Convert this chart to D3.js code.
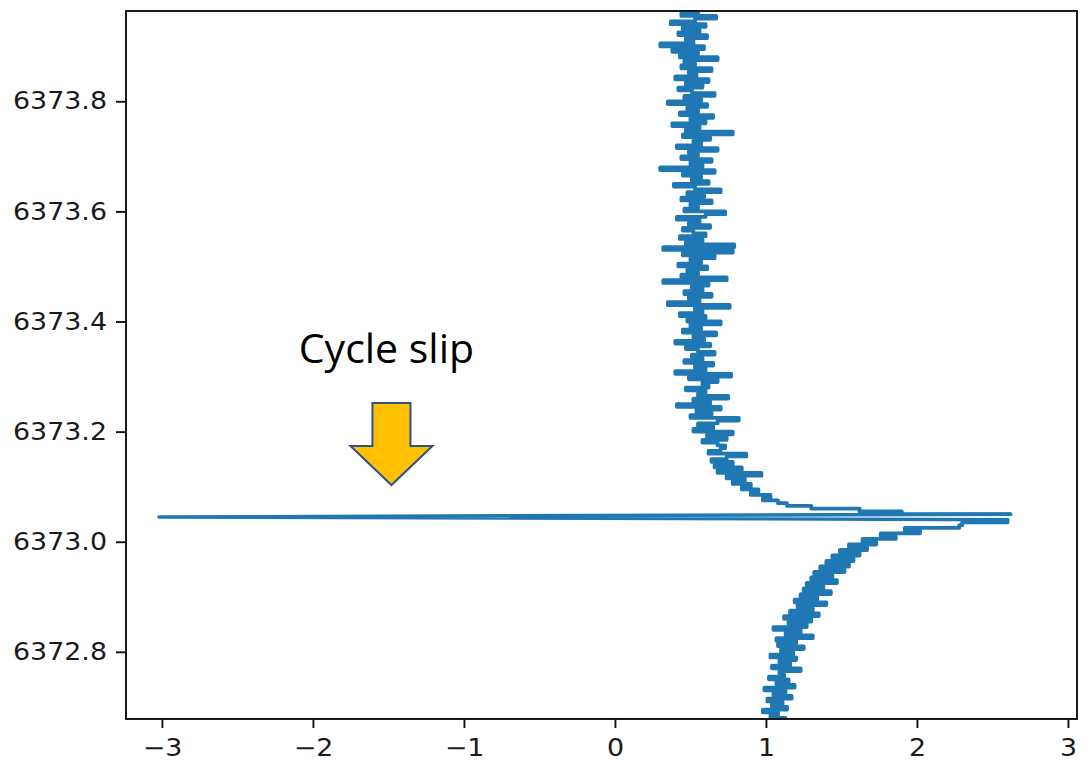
<!DOCTYPE html>
<html>
<head>
<meta charset="utf-8">
<script src="https://cdn.jsdelivr.net/npm/d3@7"></script>
<style>
  html, body { margin: 0; padding: 0; background: #fff; }
  svg { display: block; }
</style>
</head>
<body>
<svg id="chart" width="1088" height="761"></svg>
<script>
// Sample epochs (vertical axis)
const epochs = [
  6372.675,6372.680,6372.685,6372.690,6372.695,6372.700,6372.705,6372.710,6372.715,6372.720,
  6372.725,6372.730,6372.735,6372.740,6372.745,6372.750,6372.755,6372.760,6372.765,6372.770,
  6372.775,6372.780,6372.785,6372.790,6372.795,6372.800,6372.805,6372.810,6372.815,6372.820,
  6372.825,6372.830,6372.835,6372.840,6372.845,6372.850,6372.855,6372.860,6372.865,6372.870,
  6372.875,6372.880,6372.885,6372.890,6372.895,6372.900,6372.905,6372.910,6372.915,6372.920,
  6372.925,6372.930,6372.935,6372.940,6372.945,6372.950,6372.955,6372.960,6372.965,6372.970,
  6372.975,6372.980,6372.985,6372.990,6372.995,6373.000,6373.005,6373.010,6373.015,6373.020,
  6373.025,6373.030,6373.035,6373.040,6373.045,6373.050,6373.055,6373.060,6373.065,6373.070,
  6373.075,6373.080,6373.085,6373.090,6373.095,6373.100,6373.105,6373.110,6373.115,6373.120,
  6373.125,6373.130,6373.135,6373.140,6373.145,6373.150,6373.155,6373.160,6373.165,6373.170,
  6373.175,6373.180,6373.185,6373.190,6373.195,6373.200,6373.205,6373.210,6373.215,6373.220,
  6373.225,6373.230,6373.235,6373.240,6373.245,6373.250,6373.255,6373.260,6373.265,6373.270,
  6373.275,6373.280,6373.285,6373.290,6373.295,6373.300,6373.305,6373.310,6373.315,6373.320,
  6373.325,6373.330,6373.335,6373.340,6373.345,6373.350,6373.355,6373.360,6373.365,6373.370,
  6373.375,6373.380,6373.385,6373.390,6373.395,6373.400,6373.405,6373.410,6373.415,6373.420,
  6373.425,6373.430,6373.435,6373.440,6373.445,6373.450,6373.455,6373.460,6373.465,6373.470,
  6373.475,6373.480,6373.485,6373.490,6373.495,6373.500,6373.505,6373.510,6373.515,6373.520,
  6373.525,6373.530,6373.535,6373.540,6373.545,6373.550,6373.555,6373.560,6373.565,6373.570,
  6373.575,6373.580,6373.585,6373.590,6373.595,6373.600,6373.605,6373.610,6373.615,6373.620,
  6373.625,6373.630,6373.635,6373.640,6373.645,6373.650,6373.655,6373.660,6373.665,6373.670,
  6373.675,6373.680,6373.685,6373.690,6373.695,6373.700,6373.705,6373.710,6373.715,6373.720,
  6373.725,6373.730,6373.735,6373.740,6373.745,6373.750,6373.755,6373.760,6373.765,6373.770,
  6373.775,6373.780,6373.785,6373.790,6373.795,6373.800,6373.805,6373.810,6373.815,6373.820,
  6373.825,6373.830,6373.835,6373.840,6373.845,6373.850,6373.855,6373.860,6373.865,6373.870,
  6373.875,6373.880,6373.885,6373.890,6373.895,6373.900,6373.905,6373.910,6373.915,6373.920,
  6373.925,6373.930,6373.935,6373.940,6373.945,6373.950,6373.955,6373.960,6373.965
];

// Observed residual at each epoch (horizontal axis); the cycle slip sits at 6373.045
const residuals = [
  1.00,1.13,1.03,1.08,0.98,1.14,1.04,1.11,1.01,1.17,
  1.05,1.13,0.99,1.19,1.07,1.15,1.02,1.12,1.09,1.23,
  1.04,1.16,1.09,1.20,1.03,1.18,1.10,1.25,1.08,1.20,
  1.07,1.31,1.13,1.23,1.05,1.27,1.15,1.30,1.12,1.35,
  1.16,1.31,1.21,1.40,1.19,1.34,1.23,1.43,1.25,1.38,
  1.27,1.47,1.30,1.44,1.32,1.52,1.36,1.55,1.40,1.58,
  1.44,1.62,1.49,1.67,1.55,1.73,1.64,1.86,1.76,2.02,
  1.92,2.28,2.30,2.60,-3.02,2.62,1.90,1.62,1.30,1.14,
  1.08,0.98,1.03,0.90,0.95,0.84,0.90,0.78,0.86,0.74,
  0.97,0.68,0.84,0.66,0.78,0.64,0.74,0.87,0.62,0.70,
  0.73,0.68,0.58,0.74,0.61,0.78,0.52,0.65,0.55,0.68,
  0.82,0.50,0.64,0.54,0.70,0.41,0.63,0.52,0.75,0.55,
  0.60,0.47,0.62,0.58,0.68,0.49,0.77,0.40,0.60,0.53,
  0.65,0.46,0.58,0.51,0.66,0.55,0.47,0.63,0.40,0.59,
  0.52,0.67,0.45,0.57,0.50,0.70,0.48,0.60,0.43,0.58,
  0.53,0.76,0.35,0.56,0.49,0.64,0.46,0.58,0.51,0.62,
  0.32,0.74,0.44,0.55,0.48,0.61,0.42,0.57,0.50,0.66,
  0.45,0.78,0.32,0.79,0.47,0.58,0.43,0.60,0.52,0.45,
  0.63,0.49,0.56,0.41,0.60,0.73,0.46,0.55,0.50,0.64,
  0.44,0.59,0.48,0.70,0.53,0.39,0.62,0.51,0.57,0.45,
  0.66,0.30,0.58,0.50,0.64,0.44,0.55,0.49,0.68,0.41,
  0.57,0.52,0.63,0.45,0.78,0.47,0.56,0.38,0.60,0.50,
  0.65,0.43,0.55,0.48,0.61,0.35,0.57,0.46,0.66,0.51,
  0.42,0.58,0.47,0.62,0.40,0.54,0.49,0.64,0.44,0.53,
  0.46,0.68,0.43,0.55,0.38,0.59,0.30,0.52,0.47,0.61,
  0.42,0.56,0.45,0.60,0.37,0.53,0.67,0.44,0.55
];

const xTicks = [-3, -2, -1, 0, 1, 2, 3];
const yTicks = [6372.8, 6373.0, 6373.2, 6373.4, 6373.6, 6373.8];
const xDomain = [-3.238, 3.06];
const yDomain = [6372.678, 6373.964];
const annotationText = "Cycle slip";
const annotationPoint = { x: -1.48, t: 6373.103 };

const svg = d3.select("#chart");
const plot = { left: 126, right: 1077, top: 11, bottom: 719 };
const labelStretch = 1.12;
const traceColor = "#1f77b4";

const x = d3.scaleLinear().domain(xDomain).range([plot.left, plot.right]);
const y = d3.scaleLinear().domain(yDomain).range([plot.bottom, plot.top]);

svg.append("defs").append("clipPath").attr("id", "plot-clip")
  .append("rect")
  .attr("x", plot.left).attr("y", plot.top)
  .attr("width", plot.right - plot.left).attr("height", plot.bottom - plot.top);

// Residual trace: dense sampling drawn as horizontal steps; the slip itself is a straight jump
const series = epochs.map((t, i) => ({ t, v: residuals[i] }));
const slip = d3.minIndex(residuals);
const stepLine = d3.line().x(d => x(d.v)).y(d => y(d.t)).curve(d3.curveStepAfter);
const straightLine = d3.line().x(d => x(d.v)).y(d => y(d.t));

const traceG = svg.append("g").attr("clip-path", "url(#plot-clip)");
const pieces = [
  { data: series.slice(0, slip), gen: stepLine, w: 3.8 },
  { data: series.slice(slip - 1, slip + 2), gen: straightLine, w: 3.4 },
  { data: series.slice(slip + 1), gen: stepLine, w: 3.8 }
];
pieces.forEach(p => {
  traceG.append("path")
    .datum(p.data)
    .attr("d", p.gen)
    .attr("fill", "none")
    .attr("stroke", traceColor)
    .attr("stroke-width", p.w)
    .attr("stroke-linejoin", "round")
    .attr("stroke-linecap", "round");
});

// Axes
const fmtX = d => (d < 0 ? "\u2212" + Math.abs(d) : String(d));
const xAxis = d3.axisBottom(x).tickValues(xTicks).tickFormat(fmtX)
  .tickSize(9).tickPadding(11).tickSizeOuter(0);
const yAxis = d3.axisLeft(y).tickValues(yTicks).tickFormat(d3.format(".1f"))
  .tickSize(10).tickPadding(9).tickSizeOuter(0);

const gx = svg.append("g").attr("transform", `translate(0,${plot.bottom})`).call(xAxis);
const gy = svg.append("g").attr("transform", `translate(${plot.left},0)`).call(yAxis);

[gx, gy].forEach(g => {
  g.select(".domain").remove();
  g.selectAll(".tick line").attr("stroke", "#111").attr("stroke-width", 1.9);
  g.selectAll(".tick text")
    .attr("fill", "#1a1a1a")
    .style("font-family", "'DejaVu Sans', sans-serif")
    .style("font-size", "24px");
});

// Slightly wider glyphs on tick labels
gx.selectAll(".tick text").attr("transform", `scale(${labelStretch},1)`);
gy.selectAll(".tick text").each(function () {
  const t = d3.select(this);
  const px = +t.attr("x");
  t.attr("x", 0).attr("transform", `translate(${px},0) scale(${labelStretch},1)`);
});

// Frame
svg.append("rect")
  .attr("x", plot.left).attr("y", plot.top)
  .attr("width", plot.right - plot.left).attr("height", plot.bottom - plot.top)
  .attr("fill", "none").attr("stroke", "#111").attr("stroke-width", 1.9);

// Annotation: label and block arrow pointing at the slip
const tipX = x(annotationPoint.x);
const tipY = y(annotationPoint.t);
const arrowShape = [
  [-19, -82], [19, -82], [19, -39], [41, -39], [0, 0], [-41, -39], [-19, -39]
];
svg.append("polygon")
  .attr("points", arrowShape.map(([dx, dy]) => `${tipX + dx},${tipY + dy}`).join(" "))
  .attr("fill", "#FFC000")
  .attr("stroke", "#2F528F")
  .attr("stroke-width", 2)
  .attr("stroke-linejoin", "miter");

svg.append("text")
  .attr("x", tipX - 5)
  .attr("y", tipY - 122)
  .attr("text-anchor", "middle")
  .style("font-family", "'Open Sans', 'Noto Sans', sans-serif")
  .style("font-size", "41px")
  .attr("fill", "#000")
  .text(annotationText);
</script>
</body>
</html>
